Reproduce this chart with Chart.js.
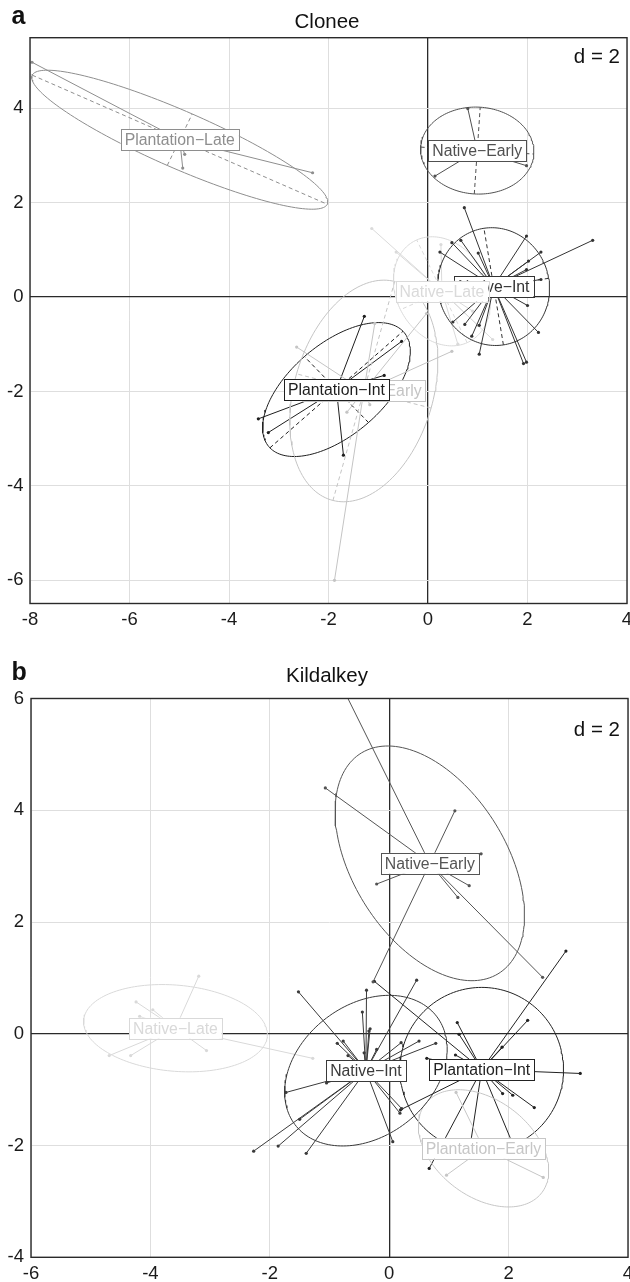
<!DOCTYPE html>
<html>
<head>
<meta charset="utf-8">
<script src="https://cdn.jsdelivr.net/npm/chart.js@4.4.1/dist/chart.umd.min.js"></script>
<style>
html,body{margin:0;padding:0;background:#fff;}
#wrapA{position:absolute;left:0;top:0;width:630px;height:640px;}
#wrapB{position:absolute;left:0;top:640px;width:630px;height:642px;}
canvas{display:block;}
</style>
</head>
<body>
<div id="wrapA"><canvas id="cA" width="630" height="640"></canvas></div>
<div id="wrapB"><canvas id="cB" width="630" height="642"></canvas></div>
<script>
// ---------------- Panel a : Clonee ----------------
const cloneeGroups = ['Native\u2212Early','Native\u2212Int','Native\u2212Late','Plantation\u2212Early','Plantation\u2212Int','Plantation\u2212Late'];
const cloneeColors = ['#505050','#333333','#dadada','#c4c4c4','#1e1e1e','#8e8e8e'];
const cloneeCentroidX = [0.99, 1.32, 0.28, -1.29, -1.84, -4.99];
const cloneeCentroidY = [3.10, 0.22, 0.12, -1.99, -1.96, 3.33];
const cloneeNativeEarly = [[0.80,3.99],[0.14,2.56],[1.98,2.78]];
const cloneeNativeInt = [[0.73,1.89],[0.48,1.15],[0.66,1.20],[0.24,0.95],[1.01,0.93],[1.98,1.29],[2.27,0.95],[2.02,0.76],[1.98,0.58],[3.31,1.20],[2.27,0.37],[2.00,-0.18],[2.22,-0.75],[1.92,-1.41],[1.98,-1.38],[1.03,-1.21],[0.50,-0.53],[0.74,-0.58],[1.03,-0.60],[0.88,-0.83]];
const cloneeNativeLate = [[-1.13,1.45],[-0.64,0.95],[0.26,1.11],[1.0,-0.6],[1.3,-0.9],[0.9,-0.3],[0.6,-1.0]];
const cloneePlantationEarly = [[-1.88,-6.0],[-2.64,-1.06],[0.48,-1.15],[-1.07,-0.56],[-0.03,-0.35],[-1.63,-2.44],[-1.17,-2.28]];
const cloneePlantationInt = [[-1.28,-0.41],[-0.53,-0.94],[-0.88,-1.66],[-3.41,-2.58],[-3.21,-2.87],[-1.70,-3.35]];
const cloneePlantationLate = [[-7.96,4.97],[-2.32,2.63],[-4.93,2.73],[-4.89,3.02]];
const cloneeEllipseA = [1.14, 1.25, 1.20, 2.40, 1.82, 3.265];
const cloneeEllipseB = [0.92, 1.12, 0.92, 1.40, 0.95, 0.60];
const cloneeEllipseAngle = [-3.7, 99, 115, 75, 42.7, -24.75];
const cloneeXTicks = [-8,-6,-4,-2,0,2,4];
const cloneeYTicks = [-6,-4,-2,0,2,4];

// ---------------- Panel b : Kildalkey ----------------
const kildGroups = ['Native\u2212Early','Native\u2212Int','Native\u2212Late','Plantation\u2212Early','Plantation\u2212Int'];
const kildColors = ['#555555','#3a3a3a','#d9d9d9','#c6c6c6','#222222'];
const kildCentroidX = [0.68, -0.39, -3.58, 1.58, 1.55];
const kildCentroidY = [3.05, -0.66, 0.10, -2.05, -0.64];
const kildNativeEarly = [[-0.97,6.6],[-1.07,4.40],[1.10,3.99],[1.54,3.22],[-0.21,2.68],[1.34,2.65],[1.15,2.44],[2.57,1.01],[-0.27,0.93]];
const kildNativeInt = [[-1.52,0.75],[-0.45,0.39],[-0.32,0.09],[-0.34,0.05],[-0.87,-0.17],[-0.77,-0.13],[-0.69,-0.39],[-0.42,-0.34],[-0.21,-0.28],[0.20,-0.16],[0.50,-0.13],[0.78,-0.17],[0.46,0.96],[-1.73,-1.05],[-1.05,-0.88],[-1.50,-1.53],[-2.27,-2.10],[-1.86,-2.01],[-1.39,-2.14],[0.06,-1.93],[0.18,-1.42],[0.21,-1.34],[-0.38,0.78]];
const kildNativeLate = [[-3.19,1.03],[-4.24,0.57],[-3.96,0.43],[-4.69,-0.39],[-4.33,-0.39],[-3.06,-0.30],[-1.28,-0.44],[-4.18,0.31]];
const kildPlantationEarly = [[1.12,-1.05],[0.96,-2.53],[2.58,-2.57]];
const kildPlantationInt = [[2.96,1.48],[2.32,0.24],[1.14,0.20],[1.17,-0.01],[1.89,-0.24],[0.63,-0.44],[1.11,-0.38],[3.20,-0.71],[1.90,-1.07],[2.07,-1.10],[2.43,-1.32],[0.19,-1.36],[0.67,-2.41],[1.35,-2.05],[2.10,-2.05],[-0.25,0.94]];
const kildEllipseA = [2.285, 1.536, 1.545, 1.26, 1.47];
const kildEllipseB = [1.306, 1.145, 0.77, 0.84, 1.37];
const kildEllipseAngle = [-61.3, 44, -5.6, -42, 90];
const kildXTicks = [-6,-4,-2,0,2,4];
const kildYTicks = [-4,-2,0,2,4,6];

const FONT = "'Liberation Sans', Arial, Helvetica, sans-serif";

function ellipsePts(cx, cy, a, b, angDeg) {
  const t = angDeg * Math.PI / 180, ca = Math.cos(t), sa = Math.sin(t);
  const out = [];
  for (let k = 0; k <= 160; k++) {
    const u = 2 * Math.PI * k / 160;
    const ex = a * Math.cos(u), ey = b * Math.sin(u);
    out.push({x: cx + ex * ca - ey * sa, y: cy + ex * sa + ey * ca});
  }
  return out;
}
function axesPts(cx, cy, a, b, angDeg) {
  const t = angDeg * Math.PI / 180, ca = Math.cos(t), sa = Math.sin(t);
  return [
    {x: cx - a * ca, y: cy - a * sa}, {x: cx + a * ca, y: cy + a * sa}, {x: null, y: null},
    {x: cx + b * sa, y: cy - b * ca}, {x: cx - b * sa, y: cy + b * ca}
  ];
}

function makeChart(canvasId, p) {
  const datasets = [];
  p.groups.forEach((g, i) => {
    const col = p.colors[i], cx = p.cx[i], cy = p.cy[i];
    const star = [];
    p.points[i].forEach(pt => { star.push({x: cx, y: cy}, {x: pt[0], y: pt[1]}, {x: null, y: null}); });
    datasets.push({data: star, showLine: true, borderColor: col, borderWidth: 1, pointRadius: 0, spanGaps: false});
    datasets.push({data: p.points[i].map(pt => ({x: pt[0], y: pt[1]})), showLine: false, pointRadius: 1.6,
      pointBackgroundColor: col, pointBorderWidth: 0, pointHoverRadius: 0});
    datasets.push({data: ellipsePts(cx, cy, p.ea[i], p.eb[i], p.eang[i]), showLine: true, borderColor: col,
      borderWidth: 1, pointRadius: 0});
    if (p.axes) datasets.push({data: axesPts(cx, cy, p.ea[i], p.eb[i], p.eang[i]), showLine: true, borderColor: col,
      borderWidth: 1, borderDash: [4, 3], pointRadius: 0, spanGaps: false});
  });

  const gridColor = c => (c.tick && c.tick.value === 0) ? '#2a2a2a' : '#dedede';
  const gridWidth = c => (c.tick && c.tick.value === 0) ? 1.3 : 1;
  const noPad = s => { s.paddingLeft = 0; s.paddingRight = 0; s.paddingTop = 0; s.paddingBottom = 0; };

  const overlay = {
    id: 'overlay_' + canvasId,
    afterDatasetsDraw(chart) {
      const ctx = chart.ctx, xs = chart.scales.x, ys = chart.scales.y;
      ctx.save();
      ctx.font = '15.8px ' + FONT;
      p.groups.forEach((g, i) => {
        const px = xs.getPixelForValue(p.cx[i]), py = ys.getPixelForValue(p.cy[i]);
        const w = ctx.measureText(g).width + 8, h = 21;
        ctx.fillStyle = '#ffffff';
        ctx.fillRect(px - w / 2, py - h / 2, w, h);
        ctx.strokeStyle = p.colors[i];
        ctx.lineWidth = 1;
        ctx.strokeRect(Math.round(px - w / 2) + 0.5, Math.round(py - h / 2) + 0.5, Math.round(w), h);
        ctx.fillStyle = p.colors[i];
        ctx.textAlign = 'center';
        ctx.textBaseline = 'middle';
        ctx.fillText(g, px, py + 1);
      });
      ctx.restore();
    },
    afterDraw(chart) {
      const ctx = chart.ctx, a = chart.chartArea;
      ctx.save();
      ctx.strokeStyle = '#2a2a2a';
      ctx.lineWidth = 1.4;
      ctx.strokeRect(a.left, a.top, a.right - a.left, a.bottom - a.top);
      ctx.fillStyle = '#111';
      ctx.textBaseline = 'alphabetic';
      ctx.textAlign = 'left';
      ctx.font = 'bold 25px ' + FONT;
      ctx.fillText(p.letter, 11.5, p.letterY);
      ctx.textAlign = 'center';
      ctx.font = '20.5px ' + FONT;
      ctx.fillText(p.title, p.titleX, p.titleY);
      ctx.textAlign = 'right';
      ctx.font = '20.5px ' + FONT;
      ctx.fillText('d = 2', 620, p.dY);
      ctx.restore();
    }
  };

  return new Chart(document.getElementById(canvasId), {
    type: 'scatter',
    data: {datasets},
    options: {
      responsive: false,
      devicePixelRatio: 1,
      animation: false,
      events: [],
      layout: {padding: {top: p.padTop, right: p.padRight, left: 0, bottom: 0}, autoPadding: false},
      plugins: {legend: {display: false}, tooltip: {enabled: false}, title: {display: false}},
      scales: {
        x: {
          type: 'linear', min: p.xMin, max: p.xMax,
          afterBuildTicks: s => { s.ticks = p.xTicks.map(v => ({value: v})); },
          afterFit: s => { s.height = p.xAxisH; noPad(s); },
          ticks: {color: '#1a1a1a', font: {family: FONT, size: 18.5, lineHeight: 1}, padding: 7.3,
            maxRotation: 0, autoSkip: false, callback: v => String(v)},
          grid: {color: gridColor, lineWidth: gridWidth, drawTicks: false},
          border: {display: false}
        },
        y: {
          type: 'linear', min: p.yMin, max: p.yMax,
          afterBuildTicks: s => { s.ticks = p.yTicks.map(v => ({value: v})); },
          afterFit: s => { s.width = p.yAxisW; noPad(s); },
          ticks: {color: '#1a1a1a', font: {family: FONT, size: 18.5, lineHeight: 1}, padding: p.yPad,
            autoSkip: false, callback: v => String(v)},
          grid: {color: gridColor, lineWidth: gridWidth, drawTicks: false},
          border: {display: false}
        }
      }
    },
    plugins: [overlay]
  });
}

makeChart('cA', {
  groups: cloneeGroups, colors: cloneeColors, cx: cloneeCentroidX, cy: cloneeCentroidY,
  points: [cloneeNativeEarly, cloneeNativeInt, cloneeNativeLate, cloneePlantationEarly, cloneePlantationInt, cloneePlantationLate],
  ea: cloneeEllipseA, eb: cloneeEllipseB, eang: cloneeEllipseAngle, axes: true,
  xMin: -8, xMax: 4, yMin: -6.49, yMax: 5.49, xTicks: cloneeXTicks, yTicks: cloneeYTicks,
  padTop: 37.7, padRight: 3, xAxisH: 36.5, yAxisW: 30, yPad: 6.5,
  letter: 'a', letterY: 23.5, title: 'Clonee', titleX: 327, titleY: 28.3, dY: 63
});

makeChart('cB', {
  groups: kildGroups, colors: kildColors, cx: kildCentroidX, cy: kildCentroidY,
  points: [kildNativeEarly, kildNativeInt, kildNativeLate, kildPlantationEarly, kildPlantationInt],
  ea: kildEllipseA, eb: kildEllipseB, eang: kildEllipseAngle, axes: false,
  xMin: -6, xMax: 4, yMin: -4, yMax: 6, xTicks: kildXTicks, yTicks: kildYTicks,
  padTop: 58.5, padRight: 2, xAxisH: 24.7, yAxisW: 31, yPad: 7,
  letter: 'b', letterY: 40, title: 'Kildalkey', titleX: 327, titleY: 42, dY: 95.7
});
</script>
</body>
</html>
